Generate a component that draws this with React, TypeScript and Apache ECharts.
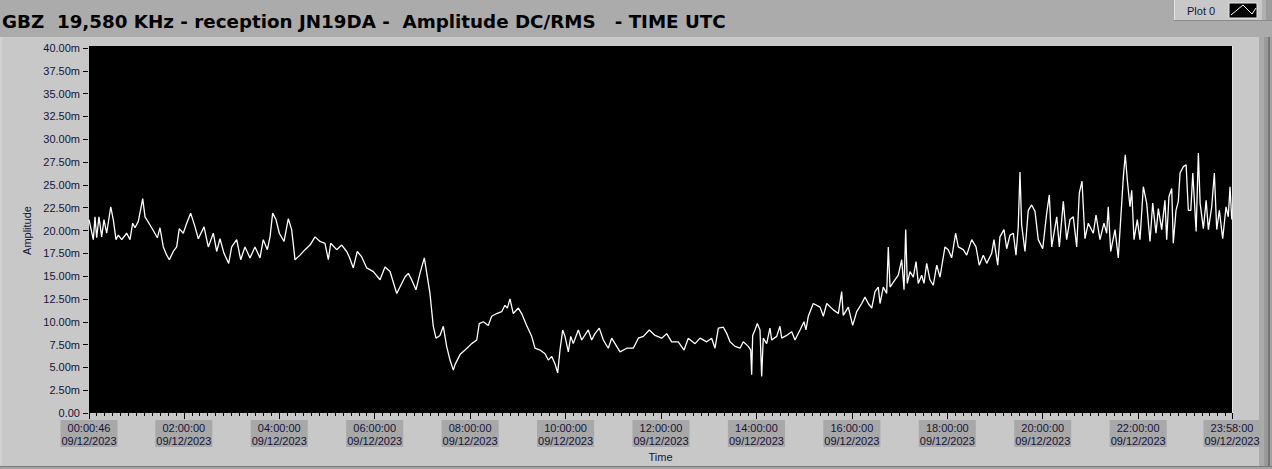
import React, { useEffect, useRef } from "react";
import * as echarts from "echarts";

const TITLE = "GBZ  19,580 KHz - reception JN19DA -  Amplitude DC/RMS   - TIME UTC";
const LEGEND_NAME = "Plot 0";
const Y_NAME = "Amplitude";
const X_NAME = "Time";
const DATE_LABEL = "09/12/2023";
const TIME_TICK_LABELS = [
  "00:00:46", "02:00:00", "04:00:00", "06:00:00", "08:00:00", "10:00:00", "12:00:00",
  "14:00:00", "16:00:00", "18:00:00", "20:00:00", "22:00:00", "23:58:00",
];
const MINOR_TICK_STEP_MIN = 10;
const Y_MIN = 0;
const Y_MAX = 40;
const Y_STEP = 2.5;

// time in minutes after midnight UTC
const timeMin = [
  0.77, 6.2, 8.3, 10.4, 13.3, 16.7, 19.6, 23.0, 28.1, 31.3, 34.7, 37.6, 41.9, 48.2, 52.3, 55.7, 58.6, 62.8, 68.3, 71.2,
  77.5, 81.6, 86.7, 90.0, 94.2, 98.5, 101.8, 106.8, 111.0, 114.3, 119.3, 123.6, 128.6, 134.1, 138.2, 145.4, 150.8, 157.1, 161.3, 165.5,
  170.5, 176.4, 180.2, 186.5, 191.5, 196.9, 203.2, 209.5, 215.8, 219.9, 225.0, 228.4, 231.7, 235.9, 240.1, 246.0, 251.4, 255.6, 259.8, 266.1,
  272.4, 278.7, 285.0, 291.2, 297.5, 301.7, 304.7, 312.2, 318.5, 324.8, 328.1, 333.1, 338.1, 343.7, 350.0, 358.3, 366.7, 373.0, 379.3, 387.7,
  394.0, 398.1, 402.3, 406.5, 411.9, 416.9, 422.4, 429.5, 433.7, 437.1, 442.1, 446.3, 450.5, 454.7, 458.9, 461.0, 467.3, 473.6, 482.0, 488.3,
  491.5, 496.6, 502.8, 507.1, 513.4, 519.7, 523.8, 526.8, 530.1, 534.3, 540.6, 544.8, 551.1, 557.4, 561.6, 567.9, 574.2, 578.3, 582.6, 586.7,
  590.1, 593.0, 596.4, 599.3, 603.5, 606.5, 609.7, 616.0, 620.3, 628.6, 632.8, 637.0, 642.4, 647.5, 653.7, 658.0, 664.3, 668.5, 676.9, 685.2,
  691.5, 697.8, 705.3, 712.5, 720.9, 727.2, 733.4, 741.8, 749.0, 754.3, 762.8, 769.1, 777.5, 783.7, 787.9, 792.1, 798.4, 802.7, 806.8, 813.1,
  819.4, 823.5, 829.8, 832.8, 834.0, 835.3, 838.2, 841.1, 844.5, 846.6, 848.6, 852.9, 857.0, 859.2, 865.5, 869.6, 871.8, 878.0, 884.4, 888.5,
  894.8, 899.8, 902.3, 905.2, 911.5, 920.0, 924.1, 928.4, 936.7, 943.0, 947.2, 949.2, 955.5, 961.0, 966.1, 972.4, 976.5, 980.7, 985.0, 989.1,
  993.2, 995.4, 999.5, 1003.8, 1005.8, 1008.0, 1014.2, 1018.4, 1022.7, 1025.6, 1027.7, 1029.7, 1033.1, 1037.3, 1040.7, 1043.5, 1047.8, 1050.7, 1054.1, 1058.2,
  1062.4, 1066.7, 1070.8, 1077.1, 1081.2, 1085.5, 1090.5, 1093.8, 1100.1, 1104.4, 1110.7, 1116.1, 1120.2, 1125.3, 1129.6, 1135.8, 1138.7, 1143.4, 1146.2, 1151.3,
  1154.7, 1158.8, 1163.0, 1166.4, 1169.2, 1171.4, 1173.5, 1177.7, 1181.8, 1186.1, 1190.3, 1194.4, 1200.0, 1205.0, 1208.3, 1211.3, 1217.6, 1220.9, 1225.9, 1230.1,
  1234.3, 1238.4, 1242.7, 1246.0, 1249.4, 1253.1, 1257.3, 1263.6, 1267.0, 1272.0, 1277.0, 1280.4, 1282.4, 1285.5, 1290.9, 1295.0, 1298.1, 1301.4, 1303.8, 1306.4,
  1309.7, 1311.9, 1314.8, 1318.9, 1322.3, 1326.5, 1330.7, 1334.9, 1338.3, 1342.4, 1345.4, 1349.6, 1353.7, 1355.9, 1358.7, 1362.2, 1364.2, 1367.6, 1370.5, 1372.7,
  1376.9, 1380.3, 1383.1, 1386.2, 1388.7, 1392.9, 1395.7, 1397.9, 1402.0, 1405.5, 1408.3, 1412.5, 1415.8, 1418.8, 1422.1, 1426.3, 1430.5, 1433.3, 1435.5, 1437.7,
];

// amplitude in milli-units (m)
const amplitudeM = [
  21.2, 19.0, 21.5, 19.2, 21.5, 19.3, 21.2, 19.7, 22.6, 21.2, 19.0, 19.5, 19.0, 19.7, 19.0, 20.8, 20.3, 21.0, 23.5, 21.5,
  20.6, 20.0, 19.2, 20.3, 18.2, 17.3, 16.8, 17.7, 18.2, 20.2, 19.7, 20.8, 21.9, 20.4, 19.1, 20.4, 18.2, 19.7, 17.7, 19.1,
  17.5, 16.4, 18.2, 19.0, 16.8, 18.2, 17.0, 18.2, 17.0, 19.0, 17.9, 19.3, 21.9, 21.2, 19.7, 18.8, 21.3, 20.1, 16.8, 17.3,
  17.9, 18.4, 19.3, 18.8, 18.6, 16.8, 18.6, 17.9, 18.4, 17.7, 17.1, 15.9, 17.7, 17.1, 15.9, 15.5, 14.6, 16.0, 15.5, 13.1,
  14.2, 14.9, 15.3, 14.6, 13.5, 15.3, 17.0, 13.1, 9.5, 8.2, 8.5, 9.5, 7.3, 5.8, 4.7, 5.3, 6.4, 6.9, 7.6, 8.0,
  9.8, 10.0, 9.6, 10.6, 10.9, 11.1, 11.8, 11.5, 12.5, 10.9, 11.5, 10.9, 9.6, 8.4, 7.1, 6.9, 6.5, 5.8, 6.2, 5.4,
  4.4, 6.9, 9.1, 8.4, 6.7, 8.4, 7.6, 9.1, 8.0, 9.1, 8.0, 8.7, 9.3, 8.0, 7.1, 8.2, 7.3, 6.7, 7.1, 7.1,
  8.2, 8.4, 9.1, 8.5, 8.2, 8.7, 7.8, 7.8, 6.9, 8.2, 7.6, 8.2, 7.8, 8.2, 7.1, 9.3, 9.4, 8.7, 7.8, 7.3,
  7.1, 7.8, 7.3, 6.9, 4.2, 8.5, 9.1, 9.8, 9.1, 4.0, 8.2, 7.6, 9.3, 8.0, 8.4, 9.5, 8.2, 8.5, 8.9, 8.0,
  9.1, 10.0, 9.1, 10.6, 12.0, 11.6, 10.6, 12.0, 11.3, 10.9, 13.3, 10.7, 11.6, 9.6, 11.1, 12.0, 12.7, 12.0, 11.5, 13.3,
  13.8, 12.0, 13.8, 13.1, 18.2, 13.8, 14.6, 15.1, 16.8, 13.5, 20.1, 14.2, 15.5, 14.9, 16.6, 14.2, 15.1, 14.2, 16.4, 14.6,
  14.0, 16.2, 14.9, 18.2, 17.9, 17.0, 19.7, 18.2, 17.9, 17.3, 19.0, 18.2, 16.2, 17.3, 16.4, 17.5, 19.0, 16.2, 19.3, 20.1,
  18.0, 19.5, 19.7, 17.3, 20.4, 26.4, 20.6, 17.7, 22.2, 22.8, 22.1, 19.0, 18.0, 21.9, 23.9, 18.2, 21.5, 18.2, 23.2, 19.0,
  21.2, 21.5, 18.2, 24.1, 25.4, 19.1, 20.8, 19.7, 21.7, 19.0, 20.8, 19.7, 22.6, 17.7, 20.1, 17.0, 21.3, 25.9, 28.3, 25.5,
  22.6, 24.4, 19.0, 21.2, 19.0, 24.8, 23.0, 18.8, 23.0, 19.7, 22.4, 20.1, 23.3, 19.0, 23.7, 24.6, 18.6, 22.2, 23.2, 26.3,
  27.0, 27.2, 22.2, 22.2, 26.3, 19.9, 28.5, 23.0, 20.2, 23.3, 20.1, 22.6, 26.3, 20.1, 22.2, 19.1, 22.6, 21.5, 24.8, 21.2,
];

const LABEL_COLOR = "#14143a";
const FONT = "'Liberation Sans', Arial, sans-serif";
const TITLE_FONT = "'DejaVu Sans', Verdana, sans-serif";

const toMinutes = (s: string) => {
  const [h, m, sec] = s.split(":").map(Number);
  return h * 60 + m + sec / 60;
};

export default function App() {
  const ref = useRef<HTMLDivElement>(null);

  useEffect(() => {
    if (!ref.current) return;
    const chart = echarts.init(ref.current, null, { renderer: "svg" });

    const labelMinutes = TIME_TICK_LABELS.map(toMinutes);
    const xMin = labelMinutes[0];
    const xMax = labelMinutes[labelMinutes.length - 1];
    const minorTicks: number[] = [];
    for (let t = Math.ceil(xMin / MINOR_TICK_STEP_MIN) * MINOR_TICK_STEP_MIN; t <= xMax; t += MINOR_TICK_STEP_MIN) {
      minorTicks.push(t);
    }
    const seriesData = timeMin.map((t, i) => [t, amplitudeM[i]]);

    const gridLeft = 89;
    const gridRight = 40;
    const gridTop = 48;
    const gridBottom = 56;
    const W = 1272;
    const H = 469;

    chart.setOption({
      animation: false,
      backgroundColor: "#c8c8c8",
      title: {
        text: TITLE,
        left: 2,
        top: 12,
        padding: 0,
        textStyle: { fontFamily: TITLE_FONT, fontSize: 18.3, fontWeight: "bold", color: "#000" },
      },
      grid: {
        left: gridLeft,
        right: gridRight,
        top: gridTop,
        bottom: gridBottom,
        show: true,
        backgroundColor: "#000",
        borderWidth: 0,
      },
      xAxis: [
        {
          type: "value",
          position: "bottom",
          min: xMin,
          max: xMax,
          name: X_NAME,
          nameLocation: "middle",
          nameGap: 37,
          nameTextStyle: { fontFamily: FONT, fontSize: 11, color: LABEL_COLOR },
          axisLine: { show: false },
          splitLine: { show: false },
          axisTick: {
            show: true,
            length: 6,
            customValues: labelMinutes,
            lineStyle: { color: "#000", width: 1 },
          },
          axisLabel: {
            customValues: labelMinutes,
            margin: 7,
            fontFamily: FONT,
            fontSize: 11,
            lineHeight: 13,
            color: LABEL_COLOR,
            backgroundColor: "#a8a8a8",
            padding: [1, 1, 0, 1],
            align: "center",
            formatter: (v: number) => {
              let best = 0;
              labelMinutes.forEach((m, i) => {
                if (Math.abs(m - v) < Math.abs(labelMinutes[best] - v)) best = i;
              });
              return TIME_TICK_LABELS[best] + "\n" + DATE_LABEL;
            },
          },
        },
        {
          type: "value",
          position: "bottom",
          min: xMin,
          max: xMax,
          axisLine: { show: false },
          splitLine: { show: false },
          axisLabel: { show: false },
          axisTick: {
            show: true,
            length: 3,
            customValues: minorTicks,
            lineStyle: { color: "#000", width: 1 },
          },
        },
      ],
      yAxis: {
        type: "value",
        min: Y_MIN,
        max: Y_MAX,
        interval: Y_STEP,
        offset: 1,
        name: Y_NAME,
        nameLocation: "middle",
        nameGap: 41,
        nameTextStyle: { fontFamily: FONT, fontSize: 11, color: LABEL_COLOR },
        axisLine: { show: false },
        splitLine: { show: false },
        axisTick: { show: true, length: 5, lineStyle: { color: "#000", width: 1 } },
        axisLabel: {
          margin: 8,
          fontFamily: FONT,
          fontSize: 11,
          color: LABEL_COLOR,
          formatter: (v: number) => (v === 0 ? "0.00" : v.toFixed(2) + "m"),
        },
      },
      series: [
        {
          type: "line",
          name: LEGEND_NAME,
          data: seriesData,
          xAxisIndex: 0,
          yAxisIndex: 0,
          showSymbol: false,
          symbol: "none",
          silent: true,
          lineStyle: { color: "#ffffff", width: 1.3 },
        },
      ],
      graphic: [
        // top strip
        { type: "rect", z: -10, shape: { x: 0, y: 0, width: W, height: 37 }, style: { fill: "#ababab" } },
        // left light edge
        { type: "rect", z: -10, shape: { x: 0, y: 37, width: 2, height: H - 37 }, style: { fill: "#d2d2d2" } },
        // right frame strips
        { type: "rect", z: -10, shape: { x: 1259, y: 37, width: 5, height: H - 37 }, style: { fill: "#ababab" } },
        { type: "rect", z: -10, shape: { x: 1264, y: 37, width: 4, height: H - 37 }, style: { fill: "#9a9a9a" } },
        { type: "rect", z: -10, shape: { x: 1268, y: 37, width: 2, height: H - 37 }, style: { fill: "#767676" } },
        { type: "rect", z: -10, shape: { x: 1270, y: 37, width: 2, height: H - 37 }, style: { fill: "#a4a4a4" } },
        // bottom frame
        { type: "rect", z: -10, shape: { x: 0, y: 466, width: W, height: 1 }, style: { fill: "#7a7a7a" } },
        { type: "rect", z: -10, shape: { x: 0, y: 467, width: W, height: 2 }, style: { fill: "#a4a4a4" } },
        // plot frame edges
        { type: "rect", z: 1, shape: { x: gridLeft, y: gridTop - 2, width: W - gridLeft - gridRight, height: 2 }, style: { fill: "#000" } },
        { type: "line", z: 10, shape: { x1: W - gridRight + 0.5, y1: gridTop - 2, x2: W - gridRight + 0.5, y2: H - gridBottom }, style: { stroke: "#e6e6e6", lineWidth: 1 } },
        // legend box
        { type: "rect", z: 5, shape: { x: 1174, y: 0, width: 98, height: 20 }, style: { fill: "#c8c8c8" } },
        { type: "rect", z: 5, shape: { x: 1174, y: 20, width: 98, height: 1 }, style: { fill: "#8a8a8a" } },
        { type: "rect", z: 5, shape: { x: 1174, y: 0, width: 1, height: 20 }, style: { fill: "#e4e4e4" } },
        {
          type: "text",
          z: 6,
          style: { x: 1187, y: 10.5, text: LEGEND_NAME, fontFamily: FONT, fontSize: 11, fill: LABEL_COLOR, verticalAlign: "middle" },
        },
        { type: "rect", z: 6, shape: { x: 1229, y: 3, width: 28, height: 15 }, style: { fill: "#000", stroke: "#e8e8e8", lineWidth: 1 } },
        {
          type: "polyline",
          z: 7,
          shape: { points: [[1231, 15], [1243, 5], [1252, 14], [1256, 8]] },
          style: { stroke: "#fff", lineWidth: 1, fill: "none" },
        },
        { type: "rect", z: 5, shape: { x: 1262, y: 0, width: 4, height: 20 }, style: { fill: "#b0b0b0" } },
        { type: "rect", z: 5, shape: { x: 1266, y: 0, width: 6, height: 20 }, style: { fill: "#9c9c9c" } },
      ],
    });

    return () => chart.dispose();
  }, []);

  return (
    <div
      ref={ref}
      style={{ position: "absolute", left: 0, top: 0, width: 1272, height: 469 }}
    />
  );
}
